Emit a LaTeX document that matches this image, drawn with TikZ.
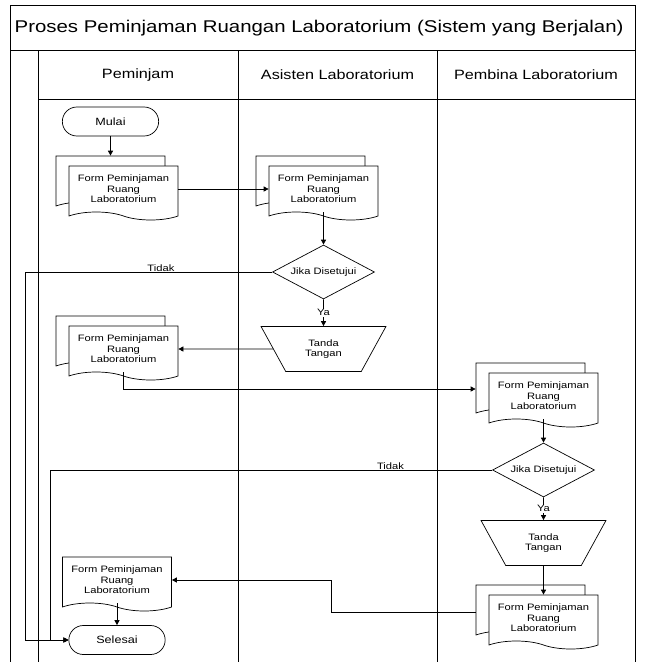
\documentclass[tikz,border=0pt]{standalone}
\usepackage{fontspec}
\setmainfont{Liberation Sans}[FakeStretch=1.2]
\usetikzlibrary{shapes.geometric, shapes.misc, shapes.symbols, shadows, arrows.meta}

\begin{document}
\begin{tikzpicture}[x=1pt, y=-1pt, line width=0.7pt, >={Triangle[length=5pt,width=5pt]},
	txt/.style = {font=\fontsize{9.3}{10.5}\selectfont, align=center},
	term/.style = {draw, rounded rectangle, minimum width=103pt, minimum height=29pt, font=\fontsize{10.5}{12}\selectfont},
	doc/.style = {draw, fill=white, tape, tape bend top=none, tape bend bottom=out and in, tape bend height=8pt, minimum width=109pt, minimum height=54pt, inner sep=1pt, txt},
	multidoc/.style = {doc, copy shadow={shadow xshift=-13pt, shadow yshift=10pt, draw, fill=white}},
	decision/.style = {draw, diamond, aspect=2, minimum width=102pt, minimum height=54pt, inner sep=0pt, txt},
	manual/.style = {draw, trapezium, shape border rotate=180, trapezium left angle=58, trapezium right angle=58, trapezium stretches=true, minimum width=125pt, minimum height=45pt, inner sep=0pt, txt}]
	\useasboundingbox (0,0) rectangle (645,662);
	% swimlanes
	\draw (10,662) -- (10,5) -- (635,5) -- (635,662);
	\draw (10,50) -- (635,50);
	\draw (38,99) -- (635,99);
	\draw (38,50) -- (38,662);
	\draw (238,50) -- (238,662);
	\draw (437,50) -- (437,662);
	\node[anchor=west, font=\fontsize{17}{20}\selectfont] (judul) at (11,28) {Proses Peminjaman Ruangan Laboratorium (Sistem yang Berjalan)};
	\node[font=\fontsize{13.5}{16}\selectfont] (peminjam) at (138,75) {Peminjam};
	\node[font=\fontsize{13.5}{16}\selectfont] (asisten) at (337.5,75) {Asisten Laboratorium};
	\node[font=\fontsize{13.5}{16}\selectfont] (pembina) at (536,75) {Pembina Laboratorium};
	% flow
	\node[term] (mulai) at (110.5,121.5) {Mulai};
	\node[multidoc] (form1) at (123.5,189) {Form Peminjaman\\Ruang\\Laboratorium};
	\node[multidoc, right of = form1, node distance=200pt] (form2) {Form Peminjaman\\Ruang\\Laboratorium};
	\node[decision, below of = form2, node distance=83pt] (cek1) {Jika Disetujui};
	\node[manual, below of = cek1, node distance=77pt] (ttd1) {Tanda\\Tangan};
	\node[multidoc, left of = ttd1, node distance=200pt] (form3) {Form Peminjaman\\Ruang\\Laboratorium};
	\node[multidoc] (form4) at (543.5,396) {Form Peminjaman\\Ruang\\Laboratorium};
	\node[decision, below of = form4, node distance=74pt] (cek2) {Jika Disetujui};
	\node[manual, below of = cek2, node distance=73pt] (ttd2) {Tanda\\Tangan};
	\node[multidoc, below of = ttd2, node distance=75pt] (form5) {Form Peminjaman\\Ruang\\Laboratorium};
	\node[doc] (form6) at (117,580) {Form Peminjaman\\Ruang\\Laboratorium};
	\node[term, below of = form6, node distance=60pt] (selesai) {Selesai};
	\coordinate (form1top) at ([yshift=10pt]form1.north);
	\coordinate (form4back) at ([xshift=-13pt,yshift=7pt]form4.west);
	\coordinate (form5back) at ([xshift=-13pt,yshift=6pt]form5.west);
	\coordinate (tidak1) at (25,0);
	\coordinate (tidak2) at (50,0);
	\draw[->] (mulai.south) -- (mulai.south |- form1top);
	\draw[->] (form1.east) -- (form2.west);
	\draw[->] (form2.south) -- (cek1.north);
	\draw[->] (cek1.south) -- node[fill=white, inner sep=1pt, txt] {Ya} (ttd1.north);
	\draw[->] (cek1.west) -- node[pos=0.45, above, inner sep=0.5pt, txt] {Tidak} (cek1.west -| tidak1) |- (selesai.west);
	\draw[->] (ttd1.west) -- (form3.east);
	\draw[->] (form3.south) |- (form4back);
	\draw[->] (form4.south) -- (cek2.north);
	\draw[->] (cek2.south) -- node[fill=white, inner sep=1pt, txt] {Ya} (ttd2.north);
	\draw[->] (cek2.west) -- node[pos=0.23, above, inner sep=0.5pt, txt] {Tidak} (cek2.west -| tidak2) |- (selesai.west);
	\draw[->] (ttd2.south) -- (form5.north);
	\draw[->] (form5back) -- ++(-144,0) |- (form6.east);
	\draw[->] (form6.south) -- (selesai.north);
\end{tikzpicture}
\end{document}
